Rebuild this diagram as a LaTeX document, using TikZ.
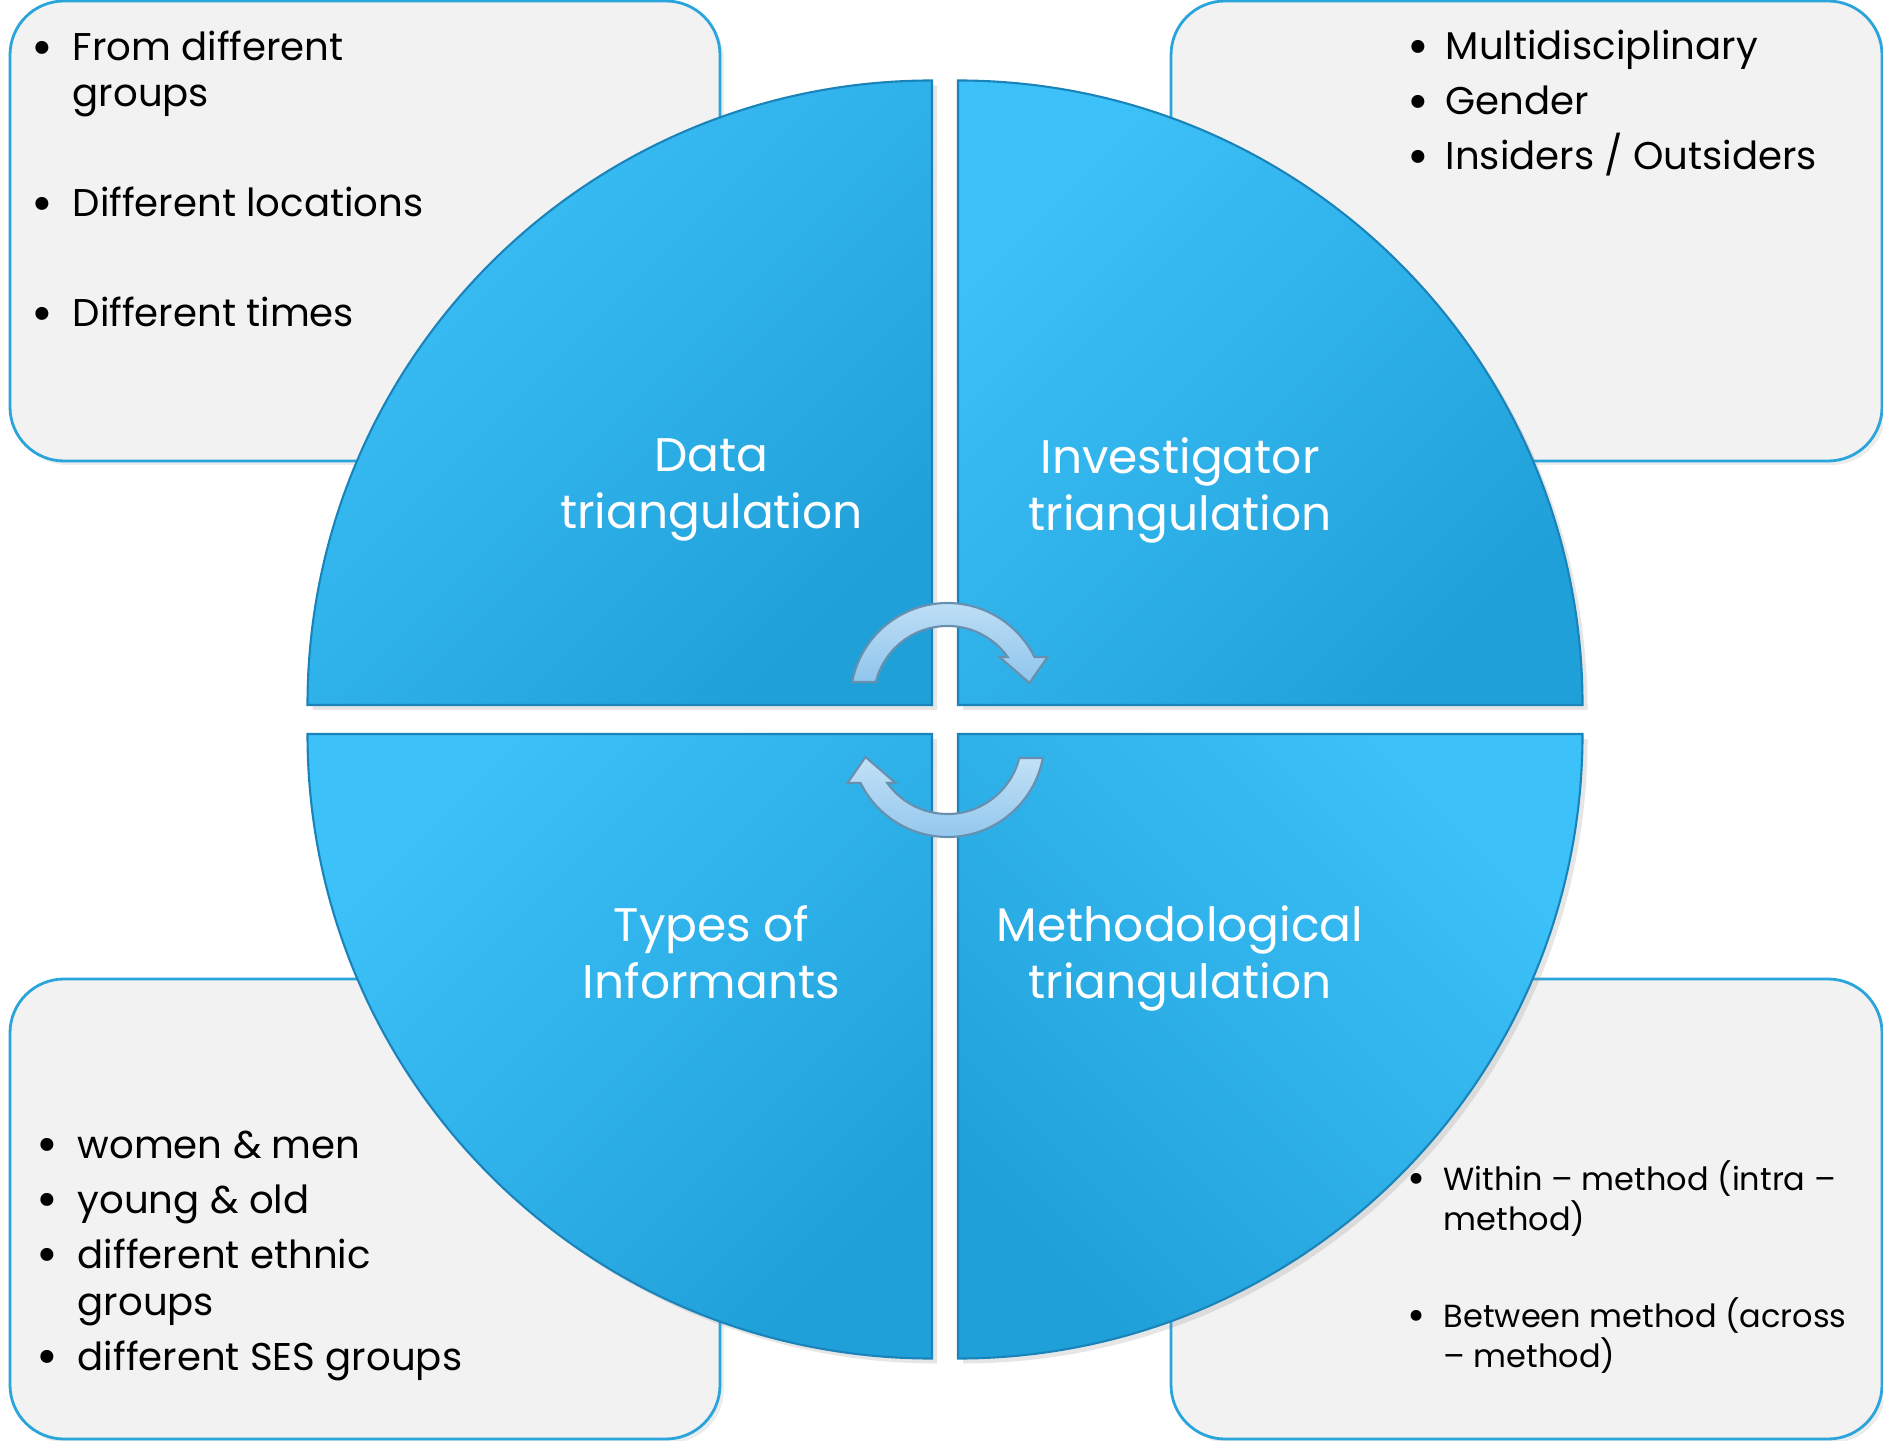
\documentclass[tikz,border=0pt]{standalone}
\usepackage{fontspec}
\setmainfont{Poppins}
\usetikzlibrary{shadows}

\definecolor{boxgray}{HTML}{F2F2F2}
\definecolor{boxline}{HTML}{2AA5DC}
\definecolor{seclight}{HTML}{3DC1F9}
\definecolor{secdark}{HTML}{20A0D8}
\definecolor{secline}{HTML}{1A84BA}
\definecolor{arrlight}{HTML}{C2E1F6}
\definecolor{arrdark}{HTML}{8FC5EC}
\definecolor{arrline}{HTML}{6890AE}

\tikzset{
  cornerbox/.style={fill=boxgray, draw=boxline, line width=0.8pt, rounded corners=0.54cm,
    drop shadow={opacity=0.15, shadow xshift=0.04cm, shadow yshift=-0.04cm}},
  quarter/.style={draw=secline, line width=0.6pt, top color=seclight, bottom color=secdark,
    drop shadow={opacity=0.2, shadow xshift=0.05cm, shadow yshift=-0.05cm}},
  cyclearrow/.style={draw=arrline, line width=0.6pt, top color=arrlight, bottom color=arrdark},
  sectorlabel/.style={text=white, align=center, inner sep=0pt, font=\fontsize{13.4}{16.2}\selectfont},
  bullettext/.style={anchor=base west, inner sep=0pt, font=\fontsize{11}{13}\selectfont},
  bulletdot/.style={anchor=base, inner sep=0pt, yshift=-0.045cm, font=\fontsize{15}{15}\selectfont},
  smalltext/.style={anchor=base west, inner sep=0pt, font=\fontsize{9.1}{11}\selectfont},
  smalldot/.style={anchor=base, inner sep=0pt, yshift=-0.035cm, font=\fontsize{12.5}{12.5}\selectfont}
}

\begin{document}
\begin{tikzpicture}
\useasboundingbox (0,0) rectangle (18.83,14.40);

\draw[cornerbox] (0.10,9.79) rectangle (7.20,14.39);
\draw[cornerbox] (11.71,9.79) rectangle (18.82,14.39);
\draw[cornerbox] (0.10,0.01) rectangle (7.20,4.61);
\draw[cornerbox] (11.71,0.01) rectangle (18.82,4.61);

\node[bulletdot] (b1) at (0.42,13.79) {\textbullet};
\node[bullettext] (from) at (0.72,13.79) {From different};
\node[bullettext] (fromb) at (0.72,13.33) {groups};
\node[bulletdot] (b2) at (0.42,12.23) {\textbullet};
\node[bullettext] (locations) at (0.72,12.23) {Different locations};
\node[bulletdot] (b3) at (0.42,11.13) {\textbullet};
\node[bullettext] (times) at (0.72,11.13) {Different times};

\node[bulletdot] (b4) at (14.18,13.80) {\textbullet};
\node[bullettext] (multi) at (14.45,13.80) {Multidisciplinary};
\node[bulletdot] (b5) at (14.18,13.25) {\textbullet};
\node[bullettext] (gender) at (14.45,13.25) {Gender};
\node[bulletdot] (b6) at (14.18,12.70) {\textbullet};
\node[bullettext] (insiders) at (14.45,12.70) {Insiders / Outsiders};

\node[bulletdot] (b7) at (0.47,2.82) {\textbullet};
\node[bullettext] (women) at (0.77,2.82) {women \& men};
\node[bulletdot] (b8) at (0.47,2.27) {\textbullet};
\node[bullettext] (young) at (0.77,2.27) {young \& old};
\node[bulletdot] (b9) at (0.47,1.72) {\textbullet};
\node[bullettext] (ethnic) at (0.77,1.72) {different ethnic};
\node[bullettext] (ethnicb) at (0.77,1.25) {groups};
\node[bulletdot] (b10) at (0.47,0.70) {\textbullet};
\node[bullettext] (ses) at (0.77,0.70) {different SES groups};

\path[quarter, shading angle=45] (9.32,7.35) -- ++(-6.245,0) arc[start angle=180, end angle=90, radius=6.245] -- cycle;
\path[quarter, shading angle=45] (9.58,7.35) -- ++(0,6.245) arc[start angle=90, end angle=0, radius=6.245] -- cycle;
\path[quarter, shading angle=45] (9.32,7.06) -- ++(-6.245,0) arc[start angle=180, end angle=270, radius=6.245] -- cycle;
\path[quarter, shading angle=-45] (9.58,7.06) -- ++(6.245,0) arc[start angle=0, end angle=-90, radius=6.245] -- cycle;

\node[smalldot] (b11) at (14.17,2.50) {\textbullet};
\node[smalltext] (within) at (14.43,2.50) {Within -- method (intra --};
\node[smalltext] (withinb) at (14.43,2.10) {method)};
\node[smalldot] (b12) at (14.17,1.13) {\textbullet};
\node[smalltext] (between) at (14.43,1.13) {Between method (across};
\node[smalltext] (betweenb) at (14.43,0.73) {-- method)};

\begin{scope}[shift={(9.475,7.40)}]
\draw[cyclearrow] (169.3:0.97) arc[start angle=169.3, end angle=26.3, radius=0.97]
  -- (1.00,0.43) -- (0.82,0.17) -- (0.52,0.43) -- (35.5:0.74)
  arc[start angle=35.5, end angle=165.9, radius=0.74] -- cycle;
\end{scope}
\begin{scope}[shift={(9.475,7.00)}, rotate=180]
\draw[cyclearrow] (169.3:0.97) arc[start angle=169.3, end angle=26.3, radius=0.97]
  -- (1.00,0.43) -- (0.82,0.17) -- (0.52,0.43) -- (35.5:0.74)
  arc[start angle=35.5, end angle=165.9, radius=0.74] -- cycle;
\end{scope}

\node[sectorlabel] (data) at (7.115,9.50) {Data\\triangulation};
\node[sectorlabel] (investigator) at (11.80,9.50) {Investigator\\triangulation};
\node[sectorlabel] (types) at (7.115,4.88) {Types of\\Informants};
\node[sectorlabel] (method) at (11.80,4.82) {Methodological\\triangulation};
\end{tikzpicture}
\end{document}
